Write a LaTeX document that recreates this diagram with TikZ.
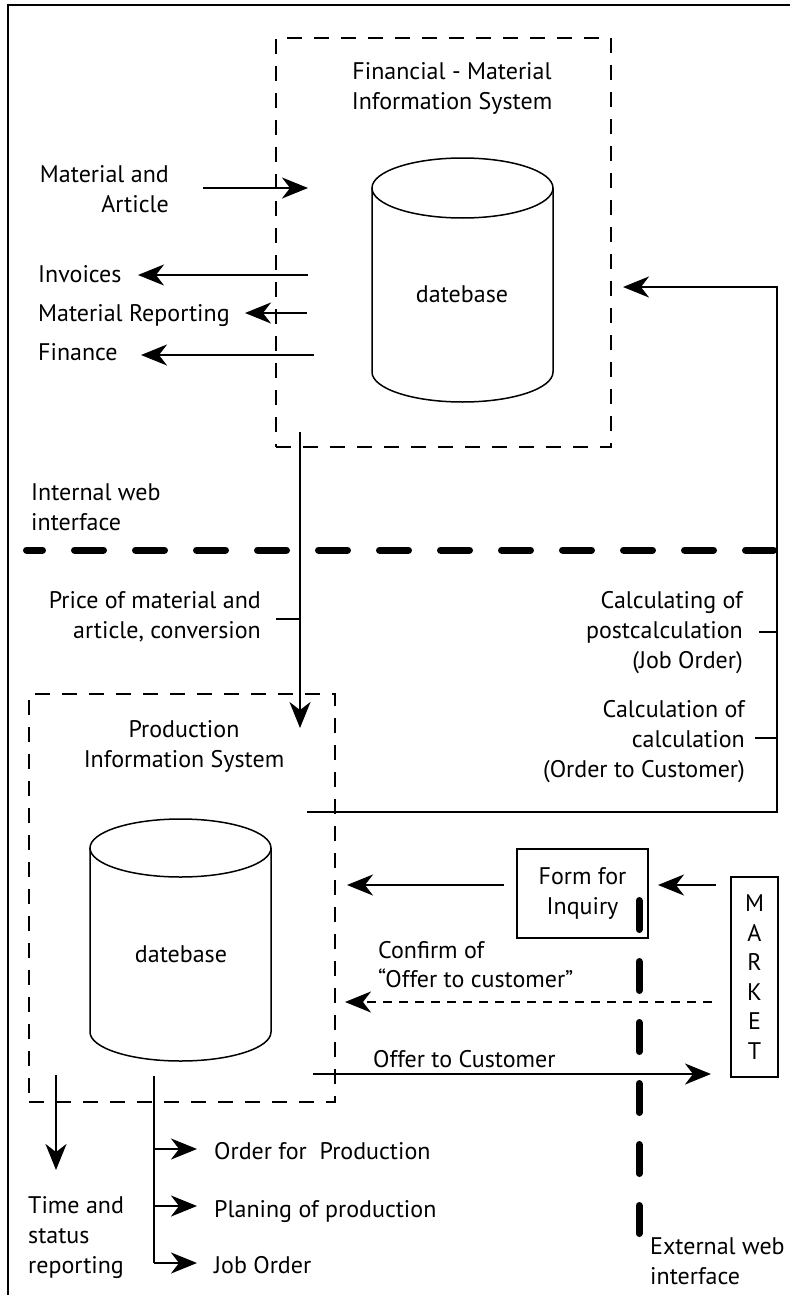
\documentclass[tikz,border=0pt]{standalone}
\usepackage{fontspec}
\setmainfont{PT Sans}
\usetikzlibrary{arrows.meta,calc}

\begin{document}
\begin{tikzpicture}[x=1pt,y=1pt,
  every node/.style={inner sep=0pt, font=\fontsize{24}{30}\selectfont},
  sysbox/.style={draw, line width=1.8pt, dash pattern=on 15pt off 12pt},
  arr/.style={line width=2.3pt, -{Stealth[length=26pt, width=21pt, inset=8pt]}},
  link/.style={line width=2.3pt},
  webline/.style={line width=7pt, line cap=round, dash pattern=on 29pt off 32pt},
  cyl/.style={line width=1.5pt}]

\useasboundingbox (0,0) rectangle (790,-1295);
\draw[line width=2.5pt] (8,-1295) -- (8,-5) -- (790,-5);

% financial - material system
\node[sysbox, minimum width=335pt, minimum height=409pt] (finbox) at (443.5,-242.5) {};
\node[align=center, anchor=base] (fintitle) at (452,-110) {Financial - Material\\Information System};
\draw[cyl] (462.5,-188) ellipse [x radius=90.5, y radius=30];
\draw[cyl] (372,-188) -- (372,-372) arc[start angle=180, end angle=360, x radius=90.5, y radius=30] -- (553,-188);
\node[anchor=base] (findb) at (462,-302) {datebase};

\node[align=right, anchor=base east] (matart) at (169,-212) {Material and\\Article};
\coordinate (matsrc) at (203,-188);
\coordinate (mattip) at (308,-188);
\draw[arr] (matsrc) -- (mattip);

\node[anchor=base west] (inv) at (38,-282) {Invoices};
\coordinate (invsrc) at (308,-275);
\coordinate (invtip) at (138,-275);
\draw[arr] (invsrc) -- (invtip);

\node[anchor=base west] (matrep) at (38,-321) {Material Reporting};
\coordinate (repsrc) at (307,-313);
\coordinate (reptip) at (245,-313);
\draw[arr] (repsrc) -- (reptip);

\node[anchor=base west] (fin) at (38,-360) {Finance};
\coordinate (finsrc) at (314,-355);
\coordinate (fintip) at (141,-355);
\draw[arr] (finsrc) -- (fintip);

% internal web interface
\node[align=left, anchor=base west] (intweb) at (31,-530) {Internal web\\interface};
\coordinate (intl) at (26.5,-550);
\coordinate (intr) at (773.5,-550);
\draw[webline, dash phase=13pt] (intl) -- (intr);

\node[align=right, anchor=base east] (price) at (261,-638) {Price of material and\\article, conversion};
\coordinate (pricesrc) at (300,-432);
\coordinate (pricetip) at (300,-728);
\coordinate (pricetick) at (276,-619);
\draw[arr] (pricesrc) -- (pricetip);
\draw[link] (pricetick) -- (pricetick -| pricesrc);

\node[align=right, anchor=base east] (postcalc) at (743,-668) {Calculating of\\postcalculation\\(Job Order)};
\node[align=right, anchor=base east] (precalc) at (745,-777) {Calculation of\\calculation\\(Order to Customer)};
\coordinate (calcsrc) at (307,-812);
\coordinate (calccorner) at (777,-812);
\coordinate (calctip) at (623,-287);
\coordinate (posttick) at (759,-632);
\coordinate (pretick) at (755,-738);
\draw[arr] (calcsrc) -- (calccorner) |- (calctip);
\draw[link] (posttick) -- (posttick -| calccorner);
\draw[link] (pretick) -- (pretick -| calccorner);

% production system
\node[sysbox, minimum width=306pt, minimum height=408pt] (prodbox) at (182,-898) {};
\node[align=center, anchor=base] (prodtitle) at (184,-767) {Production\\Information System};
\draw[cyl] (180.5,-848) ellipse [x radius=90.5, y radius=29];
\draw[cyl] (90,-848) -- (90,-1032) arc[start angle=180, end angle=360, x radius=90.5, y radius=29] -- (271,-848);
\node[anchor=base] (proddb) at (181,-962) {datebase};

\coordinate (timesrc) at (56,-1075);
\coordinate (timetip) at (56,-1170);
\draw[arr] (timesrc) -- (timetip);
\node[align=left, anchor=base west] (timestat) at (28,-1273) {Time and\\status\\reporting};

\coordinate (outsrc) at (154,-1076);
\coordinate (outend) at (154,-1263);
\draw[link] (outsrc) -- (outend);
\foreach \yy in {1149,1206,1263}
  \draw[arr] (154,-\yy) -- (197,-\yy);
\node[anchor=base west] (ordprod) at (214,-1159) {Order for\ \ Production};
\node[anchor=base west] (planprod) at (214,-1217) {Planing of production};
\node[anchor=base west] (joborder) at (214,-1273) {Job Order};

% inquiry and market
\node[draw, line width=2pt, minimum width=131pt, minimum height=89pt, align=center] (form) at (582.5,-893.5) {Form for\\Inquiry};
\node[draw, line width=2pt, minimum width=47pt, minimum height=200pt, align=center,
  font=\fontsize{24}{29.5}\selectfont] (market) at (754.5,-977) {M\\A\\R\\K\\E\\T};
\coordinate (inqtip) at (347,-885);
\draw[arr] ($(form.west)+(-12,8.5)$) -- (inqtip);
\draw[arr] ($(market.west)+(-14,92)$) -- ($(form.east)+(9,8.5)$);

\node[align=left, anchor=base west, font=\fontsize{24}{29}\selectfont] (confirm) at (378,-987) {Confirm of\\“Offer to customer”};
\coordinate (confsrc) at (712,-1002);
\coordinate (conftip) at (345,-1002);
\draw[arr, dash pattern=on 9pt off 7pt] (confsrc) -- (conftip);

\node[anchor=base west] (offer) at (373,-1067) {Offer to Customer};
\coordinate (offsrc) at (313,-1074);
\coordinate (offtip) at (711,-1074);
\draw[arr] (offsrc) -- (offtip);

% external web interface
\coordinate (extt) at (639,-900.5);
\coordinate (extb) at (639,-1233.5);
\draw[webline] (extt) -- (extb);
\node[align=left, anchor=base west] (extweb) at (650,-1284) {External web\\interface};

\end{tikzpicture}
\end{document}
